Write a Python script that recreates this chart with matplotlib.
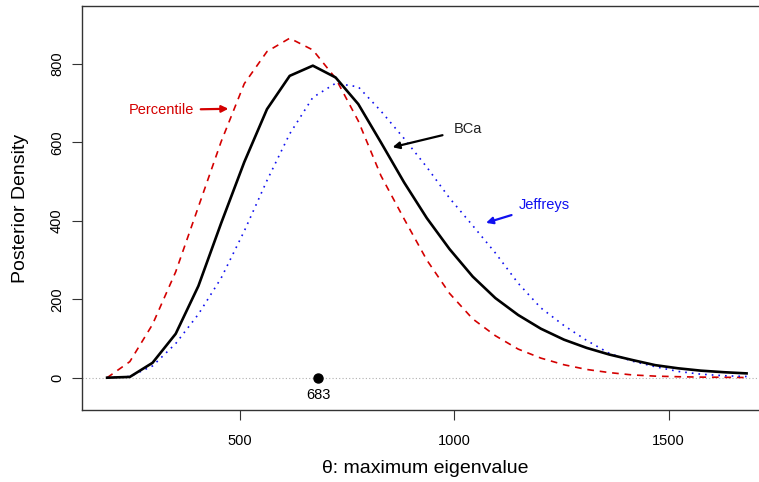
import matplotlib
matplotlib.use("Agg")
import matplotlib.pyplot as plt

plt.rcParams["font.family"] = ["Liberation Sans", "DejaVu Sans"]

# grid of theta values the densities were evaluated at
theta = [190, 243, 296, 350, 403, 456, 510, 563, 616, 670, 723, 776, 829, 883, 936,
         989, 1043, 1096, 1149, 1202, 1256, 1309, 1362, 1416, 1469, 1522, 1575, 1629, 1682]

# BCa (solid black)
bca = [0, 2, 38, 112, 234, 394, 550, 685, 770, 796, 766, 698, 600, 498, 407,
       328, 258, 203, 160, 125, 97, 76, 59, 45, 32, 24, 18, 14, 11]

# Percentile (dashed red)
percentile = [0, 41, 136, 270, 436, 602, 750, 832, 866, 836, 764, 655, 515, 405, 300,
              215, 150, 107, 73, 50, 33, 21, 13, 7, 4, 2.5, 1.5, 1, 0.5]

# Jeffreys (dotted blue)
jeffreys = [0, 3, 30, 87, 162, 254, 374, 503, 622, 715, 751, 742, 680, 610, 537,
            458, 388, 318, 241, 178, 133, 95, 62, 42, 28, 16, 9, 5, 3]

mle = 683
red = "#d40000"
blue = "#1010f0"

fig = plt.figure(figsize=(7.59, 4.82), dpi=100)
ax = fig.add_axes([82/759, 72/482, 687/759, 404/482])

ax.axhline(0, color="#b0b0b0", lw=0.8, ls=(0, (1, 2)), zorder=1)
ax.plot(theta, percentile, color=red, lw=1.2, ls=(0, (4, 3.5)))
ax.plot(theta, jeffreys, color=blue, lw=1.2, ls=(0, (1, 3)))
ax.plot(theta, bca, color="black", lw=1.9)

ax.plot([mle], [0], "o", color="black", markersize=6.5, zorder=5)
ax.text(mle, -44, str(mle), ha="center", va="center", fontsize=10.5)

# labels with arrows
ax.annotate("Percentile", xy=(473, 686), xytext=(316, 683), color=red, fontsize=10.5,
            ha="center", va="center",
            arrowprops=dict(arrowstyle="-|>", color=red, lw=1.6, mutation_scale=10,
                            shrinkA=3, shrinkB=0))
ax.annotate("BCa", xy=(856, 588), xytext=(1031, 634), color="#222222", fontsize=10.5,
            ha="center", va="center",
            arrowprops=dict(arrowstyle="-|>", color="black", lw=1.6, mutation_scale=10,
                            shrinkA=6, shrinkB=0))
ax.annotate("Jeffreys", xy=(1074, 395), xytext=(1209, 440), color=blue, fontsize=10.5,
            ha="center", va="center",
            arrowprops=dict(arrowstyle="-|>", color=blue, lw=1.6, mutation_scale=10,
                            shrinkA=3, shrinkB=0))

ax.set_xlim(131.4, 1734.3)
ax.set_ylim(-82.4, 948.2)
ax.set_xticks([500, 1000, 1500])
ax.set_yticks([0, 200, 400, 600, 800])
ax.tick_params(axis="both", direction="out", length=7, width=0.8, labelsize=10.5, color="#333333")
ax.tick_params(axis="x", pad=10)
ax.tick_params(axis="y", pad=6)
for lab in ax.get_yticklabels():
    lab.set_rotation(90)
    lab.set_va("center")

ax.spines["right"].set_visible(False)
for s in ["left", "bottom", "top"]:
    ax.spines[s].set_color("#333333")
    ax.spines[s].set_linewidth(1.0)

ax.set_xlabel("θ: maximum eigenvalue", fontsize=14, labelpad=9)
ax.set_ylabel("Posterior Density", fontsize=14, labelpad=15)

fig.savefig("out.png", dpi=100)
